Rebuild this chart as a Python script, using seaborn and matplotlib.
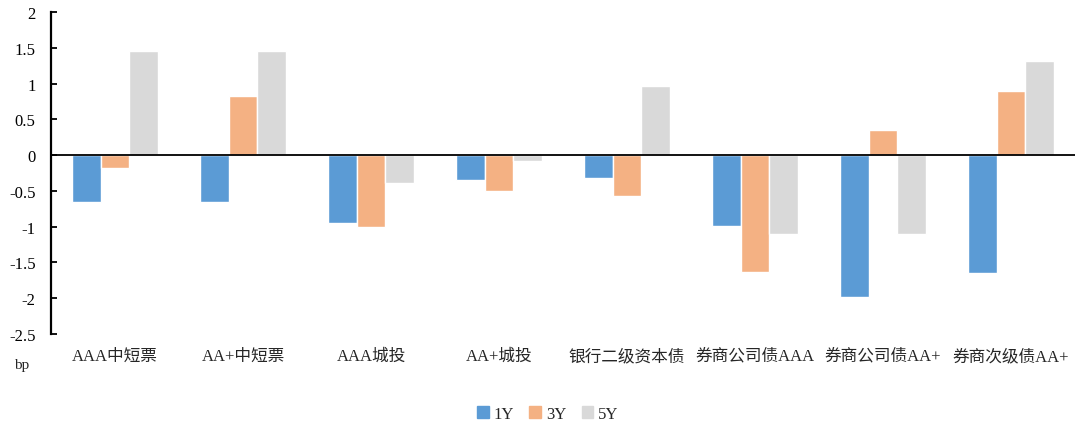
import pandas as pd
import numpy as np
import matplotlib
matplotlib.use("Agg")
import matplotlib.pyplot as plt
import seaborn as sns

# categories and spread changes (bp)
categories = ["AAA中短票", "AA+中短票", "AAA城投", "AA+城投",
              "银行二级资本债", "券商公司债AAA", "券商公司债AA+", "券商次级债AA+"]
tenors = ["1Y", "3Y", "5Y"]
y1 = [-0.66, -0.66, -0.95, -0.35, -0.32, -0.99, -1.98, -1.65]
y3 = [-0.18, 0.82, -1.01, -0.50, -0.57, -1.63, 0.35, 0.89]
y5 = [1.45, 1.45, -0.39, -0.08, 0.96, -1.10, -1.10, 1.31]
colors = ["#5B9BD5", "#F4B183", "#D9D9D9"]

df = pd.DataFrame({
    "cat": categories * 3,
    "tenor": [t for t in tenors for _ in categories],
    "value": y1 + y3 + y5,
})

sns.set_style("white")
plt.rcParams['font.family'] = ['Liberation Serif', 'Noto Sans CJK SC']
plt.rcParams['axes.unicode_minus'] = False

fig = plt.figure(figsize=(10.81, 4.27), dpi=100)
ax = fig.add_axes([51/1081, 1 - 335/427, (1075 - 51)/1081, (335 - 13)/427])

sns.barplot(data=df, x="cat", y="value", hue="tenor", order=categories,
            hue_order=tenors, palette=colors, saturation=1, width=0.67,
            ax=ax, legend=False)

ax.set_ylim(-2.5, 2)
ax.set_xlim(-0.5, len(categories) - 0.5)
ax.set_yticks(np.arange(-2.5, 2.01, 0.5))
ax.set_yticklabels([f"{v:g}" for v in np.arange(-2.5, 2.01, 0.5)])
ax.axhline(0, color="black", lw=1.3, zorder=3)

for s in ["top", "right", "bottom"]:
    ax.spines[s].set_visible(False)
ax.spines["left"].set_color("black")
ax.spines["left"].set_linewidth(1.6)

ax.tick_params(axis="y", direction="in", length=4, width=1.3, left=True,
               pad=11, labelsize=12, colors="black")
ax.tick_params(axis="x", length=0, pad=10, labelsize=12)
ax.set_xlabel("")
ax.set_ylabel("")

fig.text(22/1081, 1 - 366/427, "bp", ha="center", va="center", fontsize=11)

handles = [plt.Rectangle((0, 0), 1, 1, color=c) for c in colors]
fig.legend(handles, tenors, loc="center", bbox_to_anchor=(548/1081, 1 - 415/427),
           ncol=3, frameon=False, fontsize=12, handlelength=0.7,
           handleheight=0.7, handletextpad=0.3, columnspacing=0.9)

fig.savefig("out.png", dpi=100)
